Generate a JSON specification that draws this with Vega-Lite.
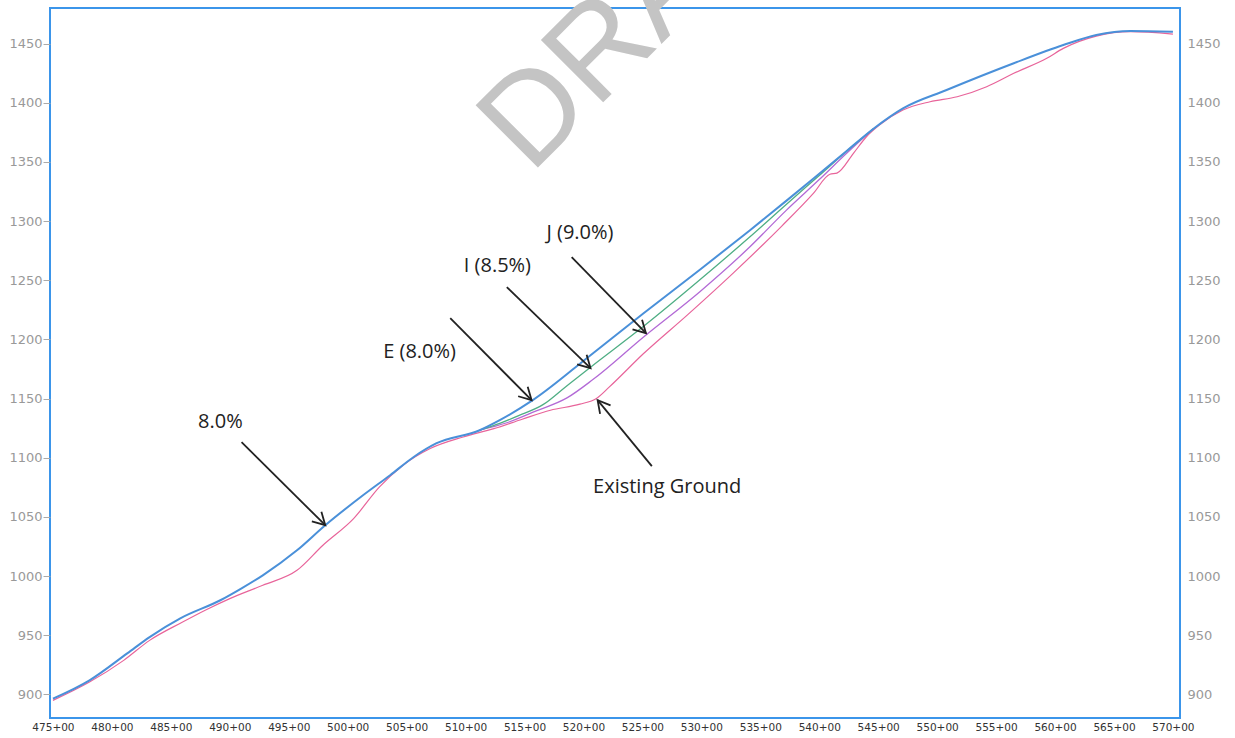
{
  "$schema": "https://vega.github.io/schema/vega-lite/v6.json",
  "width": 1130,
  "height": 710,
  "autosize": {"type": "none"},
  "padding": {"left": 50, "top": 8, "right": 55, "bottom": 20},
  "background": "white",
  "config": {"view": {"stroke": "#3b95ea", "strokeWidth": 2}},
  "datasets": {
    "profile": [
      {"sta": 475.0, "elev": 896.3, "series": "E"},
      {"sta": 478.1, "elev": 911.8, "series": "E"},
      {"sta": 481.3, "elev": 934.6, "series": "E"},
      {"sta": 483.2, "elev": 948.4, "series": "E"},
      {"sta": 485.8, "elev": 964.2, "series": "E"},
      {"sta": 489.2, "elev": 979.5, "series": "E"},
      {"sta": 491.0, "elev": 989.6, "series": "E"},
      {"sta": 492.8, "elev": 1000.6, "series": "E"},
      {"sta": 495.7, "elev": 1021.7, "series": "E"},
      {"sta": 498.1, "elev": 1042.9, "series": "E"},
      {"sta": 501.3, "elev": 1068.2, "series": "E"},
      {"sta": 503.6, "elev": 1085.2, "series": "E"},
      {"sta": 505.6, "elev": 1100.6, "series": "E"},
      {"sta": 507.5, "elev": 1112.0, "series": "E"},
      {"sta": 511.2, "elev": 1123.2, "series": "E"},
      {"sta": 512.9, "elev": 1131.7, "series": "E"},
      {"sta": 515.7, "elev": 1148.6, "series": "E"},
      {"sta": 520.6, "elev": 1186.6, "series": "E"},
      {"sta": 525.1, "elev": 1222.0, "series": "E"},
      {"sta": 529.9, "elev": 1259.0, "series": "E"},
      {"sta": 534.1, "elev": 1292.0, "series": "E"},
      {"sta": 537.2, "elev": 1317.0, "series": "E"},
      {"sta": 540.0, "elev": 1340.0, "series": "E"},
      {"sta": 542.3, "elev": 1359.0, "series": "E"},
      {"sta": 544.6, "elev": 1378.0, "series": "E"},
      {"sta": 547.1, "elev": 1395.2, "series": "E"},
      {"sta": 550.8, "elev": 1410.7, "series": "E"},
      {"sta": 556.5, "elev": 1433.3, "series": "E"},
      {"sta": 560.7, "elev": 1448.7, "series": "E"},
      {"sta": 563.5, "elev": 1457.2, "series": "E"},
      {"sta": 566.4, "elev": 1460.6, "series": "E"},
      {"sta": 570.0, "elev": 1460.0, "series": "E"},

      {"sta": 511.2, "elev": 1123.2, "series": "I"},
      {"sta": 512.9, "elev": 1129.0, "series": "I"},
      {"sta": 514.5, "elev": 1135.5, "series": "I"},
      {"sta": 516.6, "elev": 1145.0, "series": "I"},
      {"sta": 518.5, "elev": 1160.0, "series": "I"},
      {"sta": 520.6, "elev": 1176.5, "series": "I"},
      {"sta": 525.1, "elev": 1211.0, "series": "I"},
      {"sta": 529.9, "elev": 1250.5, "series": "I"},
      {"sta": 534.1, "elev": 1286.5, "series": "I"},
      {"sta": 537.2, "elev": 1314.0, "series": "I"},
      {"sta": 540.0, "elev": 1338.5, "series": "I"},
      {"sta": 542.3, "elev": 1358.7, "series": "I"},
      {"sta": 544.6, "elev": 1378.0, "series": "I"},

      {"sta": 511.2, "elev": 1123.2, "series": "J"},
      {"sta": 513.5, "elev": 1129.5, "series": "J"},
      {"sta": 516.0, "elev": 1139.5, "series": "J"},
      {"sta": 518.6, "elev": 1150.5, "series": "J"},
      {"sta": 520.8, "elev": 1166.0, "series": "J"},
      {"sta": 525.1, "elev": 1202.0, "series": "J"},
      {"sta": 529.9, "elev": 1240.5, "series": "J"},
      {"sta": 534.1, "elev": 1278.0, "series": "J"},
      {"sta": 537.2, "elev": 1309.0, "series": "J"},
      {"sta": 540.0, "elev": 1335.0, "series": "J"},
      {"sta": 542.3, "elev": 1357.0, "series": "J"},
      {"sta": 544.6, "elev": 1378.0, "series": "J"},

      {"sta": 475.0, "elev": 894.9, "series": "EG"},
      {"sta": 478.1, "elev": 910.4, "series": "EG"},
      {"sta": 481.0, "elev": 928.7, "series": "EG"},
      {"sta": 483.2, "elev": 945.6, "series": "EG"},
      {"sta": 486.0, "elev": 961.1, "series": "EG"},
      {"sta": 488.0, "elev": 971.5, "series": "EG"},
      {"sta": 490.0, "elev": 980.9, "series": "EG"},
      {"sta": 492.8, "elev": 992.2, "series": "EG"},
      {"sta": 495.7, "elev": 1004.8, "series": "EG"},
      {"sta": 497.9, "elev": 1026.0, "series": "EG"},
      {"sta": 500.5, "elev": 1048.5, "series": "EG"},
      {"sta": 502.7, "elev": 1075.3, "series": "EG"},
      {"sta": 504.7, "elev": 1093.6, "series": "EG"},
      {"sta": 507.0, "elev": 1107.7, "series": "EG"},
      {"sta": 509.8, "elev": 1117.5, "series": "EG"},
      {"sta": 512.4, "elev": 1124.5, "series": "EG"},
      {"sta": 514.8, "elev": 1132.5, "series": "EG"},
      {"sta": 517.2, "elev": 1140.1, "series": "EG"},
      {"sta": 519.7, "elev": 1145.2, "series": "EG"},
      {"sta": 521.1, "elev": 1150.0, "series": "EG"},
      {"sta": 522.2, "elev": 1159.8, "series": "EG"},
      {"sta": 525.1, "elev": 1188.0, "series": "EG"},
      {"sta": 528.8, "elev": 1220.5, "series": "EG"},
      {"sta": 532.7, "elev": 1256.0, "series": "EG"},
      {"sta": 536.8, "elev": 1295.5, "series": "EG"},
      {"sta": 539.5, "elev": 1323.3, "series": "EG"},
      {"sta": 540.9, "elev": 1339.5, "series": "EG"},
      {"sta": 541.5, "elev": 1340.5, "series": "EG"},
      {"sta": 542.9, "elev": 1357.2, "series": "EG"},
      {"sta": 544.0, "elev": 1371.2, "series": "EG"},
      {"sta": 545.1, "elev": 1381.1, "series": "EG"},
      {"sta": 547.1, "elev": 1393.8, "series": "EG"},
      {"sta": 549.4, "elev": 1400.8, "series": "EG"},
      {"sta": 551.7, "elev": 1405.0, "series": "EG"},
      {"sta": 554.2, "elev": 1413.5, "series": "EG"},
      {"sta": 556.5, "elev": 1424.8, "series": "EG"},
      {"sta": 559.3, "elev": 1437.5, "series": "EG"},
      {"sta": 560.7, "elev": 1445.9, "series": "EG"},
      {"sta": 563.5, "elev": 1456.3, "series": "EG"},
      {"sta": 566.4, "elev": 1460.0, "series": "EG"},
      {"sta": 570.0, "elev": 1458.0, "series": "EG"}
    ],
    "notes": [
      {"label": "8.0%", "tx": 489.2, "ty": 1130.0, "x1": 491.0, "y1": 1113.1, "x2": 498.1, "y2": 1042.9},
      {"label": "E (8.0%)", "tx": 506.1, "ty": 1189.2, "x1": 508.7, "y1": 1217.9, "x2": 515.6, "y2": 1148.6},
      {"label": "I (8.5%)", "tx": 512.7, "ty": 1261.9, "x1": 513.5, "y1": 1244.1, "x2": 520.6, "y2": 1175.6},
      {"label": "J (9.0%)", "tx": 519.7, "ty": 1289.8, "x1": 519.0, "y1": 1269.5, "x2": 525.3, "y2": 1205.2},
      {"label": "Existing Ground", "tx": 527.1, "ty": 1075.0, "x1": 525.8, "y1": 1092.8, "x2": 521.2, "y2": 1148.6}
    ],
    "stamp": [
      {"text": "DRAFT", "sta": 515.5, "elev": 1338.8}
    ]
  },
  "resolve": {"axis": {"y": "independent"}},
  "layer": [
    {
      "data": {"name": "stamp"},
      "mark": {"type": "text", "font": "Liberation Sans", "fontSize": 128, "color": "#c4c4c4", "angle": 315, "align": "left", "baseline": "alphabetic"},
      "encoding": {
        "x": {"field": "sta", "type": "quantitative", "scale": {"domain": [474.75, 570.6], "nice": false, "zero": false}, "axis": {"orient": "bottom", "title": null, "values": [475, 480, 485, 490, 495, 500, 505, 510, 515, 520, 525, 530, 535, 540, 545, 550, 555, 560, 565, 570], "labelExpr": "format(datum.value, 'd') + '+00'", "domain": false, "grid": false, "ticks": false, "labelColor": "#333333", "labelFont": "DejaVu Sans", "labelFontSize": 10.5, "labelPadding": 4, "labelFlush": false, "labelOverlap": false}},
        "y": {"field": "elev", "type": "quantitative", "scale": {"domain": [880, 1480], "nice": false, "zero": false}, "axis": null},
        "text": {"field": "text"}
      }
    },
    {
      "data": {"name": "profile"},
      "transform": [{"filter": "datum.series === 'EG'"}],
      "mark": {"type": "line", "color": "#e8649a", "strokeWidth": 1.2, "interpolate": "monotone"},
      "encoding": {
        "x": {"field": "sta", "type": "quantitative", "axis": {"orient": "bottom", "title": null, "values": [475, 480, 485, 490, 495, 500, 505, 510, 515, 520, 525, 530, 535, 540, 545, 550, 555, 560, 565, 570], "labelExpr": "format(datum.value, 'd') + '+00'", "domain": false, "grid": false, "ticks": false, "labelColor": "#333333", "labelFont": "DejaVu Sans", "labelFontSize": 10.5, "labelPadding": 4, "labelFlush": false, "labelOverlap": false}},
        "y": {"field": "elev", "type": "quantitative", "axis": {"orient": "left", "title": null, "format": "d", "values": [900, 950, 1000, 1050, 1100, 1150, 1200, 1250, 1300, 1350, 1400, 1450], "domain": false, "grid": false, "ticks": true, "tickSize": 7, "tickColor": "#aaaaaa", "tickWidth": 1, "labelColor": "#999999", "labelFont": "DejaVu Sans", "labelFontSize": 13, "labelPadding": 1, "labelOverlap": false}}
      }
    },
    {
      "data": {"name": "profile"},
      "transform": [{"filter": "datum.series === 'J'"}],
      "mark": {"type": "line", "color": "#b36ad6", "strokeWidth": 1.3, "interpolate": "monotone"},
      "encoding": {
        "x": {"field": "sta", "type": "quantitative", "axis": {"orient": "bottom", "title": null, "values": [475, 480, 485, 490, 495, 500, 505, 510, 515, 520, 525, 530, 535, 540, 545, 550, 555, 560, 565, 570], "labelExpr": "format(datum.value, 'd') + '+00'", "domain": false, "grid": false, "ticks": false, "labelColor": "#333333", "labelFont": "DejaVu Sans", "labelFontSize": 10.5, "labelPadding": 4, "labelFlush": false, "labelOverlap": false}},
        "y": {"field": "elev", "type": "quantitative", "axis": null}
      }
    },
    {
      "data": {"name": "profile"},
      "transform": [{"filter": "datum.series === 'I'"}],
      "mark": {"type": "line", "color": "#4fae84", "strokeWidth": 1.3, "interpolate": "monotone"},
      "encoding": {
        "x": {"field": "sta", "type": "quantitative", "axis": {"orient": "bottom", "title": null, "values": [475, 480, 485, 490, 495, 500, 505, 510, 515, 520, 525, 530, 535, 540, 545, 550, 555, 560, 565, 570], "labelExpr": "format(datum.value, 'd') + '+00'", "domain": false, "grid": false, "ticks": false, "labelColor": "#333333", "labelFont": "DejaVu Sans", "labelFontSize": 10.5, "labelPadding": 4, "labelFlush": false, "labelOverlap": false}},
        "y": {"field": "elev", "type": "quantitative", "axis": null}
      }
    },
    {
      "data": {"name": "profile"},
      "transform": [{"filter": "datum.series === 'E'"}],
      "mark": {"type": "line", "color": "#4a90d9", "strokeWidth": 2, "interpolate": "monotone"},
      "encoding": {
        "x": {"field": "sta", "type": "quantitative", "axis": {"orient": "bottom", "title": null, "values": [475, 480, 485, 490, 495, 500, 505, 510, 515, 520, 525, 530, 535, 540, 545, 550, 555, 560, 565, 570], "labelExpr": "format(datum.value, 'd') + '+00'", "domain": false, "grid": false, "ticks": false, "labelColor": "#333333", "labelFont": "DejaVu Sans", "labelFontSize": 10.5, "labelPadding": 4, "labelFlush": false, "labelOverlap": false}},
        "y": {"field": "elev", "type": "quantitative", "axis": {"orient": "right", "title": null, "format": "d", "values": [900, 950, 1000, 1050, 1100, 1150, 1200, 1250, 1300, 1350, 1400, 1450], "domain": false, "grid": false, "ticks": false, "labelColor": "#999999", "labelFont": "DejaVu Sans", "labelFontSize": 13, "labelPadding": 7, "labelOverlap": false}}
      }
    },
    {
      "data": {"name": "notes"},
      "mark": {"type": "rule", "color": "#222222", "strokeWidth": 1.8},
      "encoding": {
        "x": {"field": "x1", "type": "quantitative", "axis": {"orient": "bottom", "title": null, "values": [475, 480, 485, 490, 495, 500, 505, 510, 515, 520, 525, 530, 535, 540, 545, 550, 555, 560, 565, 570], "labelExpr": "format(datum.value, 'd') + '+00'", "domain": false, "grid": false, "ticks": false, "labelColor": "#333333", "labelFont": "DejaVu Sans", "labelFontSize": 10.5, "labelPadding": 4, "labelFlush": false, "labelOverlap": false}},
        "y": {"field": "y1", "type": "quantitative", "axis": null},
        "x2": {"field": "x2"},
        "y2": {"field": "y2"}
      }
    },
    {
      "data": {"name": "notes"},
      "mark": {"type": "point", "shape": "M -1 -0.55 L 0 0 L -1 0.55", "filled": false, "color": "#222222", "strokeWidth": 1.8, "size": 600, "opacity": 1},
      "encoding": {
        "x": {"field": "x2", "type": "quantitative", "axis": {"orient": "bottom", "title": null, "values": [475, 480, 485, 490, 495, 500, 505, 510, 515, 520, 525, 530, 535, 540, 545, 550, 555, 560, 565, 570], "labelExpr": "format(datum.value, 'd') + '+00'", "domain": false, "grid": false, "ticks": false, "labelColor": "#333333", "labelFont": "DejaVu Sans", "labelFontSize": 10.5, "labelPadding": 4, "labelFlush": false, "labelOverlap": false}},
        "y": {"field": "y2", "type": "quantitative", "axis": null},
        "angle": {"condition": {"test": "datum.label === 'Existing Ground'", "value": 231}, "value": 45}
      }
    },
    {
      "data": {"name": "notes"},
      "mark": {"type": "text", "font": "Open Sans", "fontSize": 20, "color": "#222222", "align": "center", "baseline": "middle"},
      "encoding": {
        "x": {"field": "tx", "type": "quantitative", "axis": {"orient": "bottom", "title": null, "values": [475, 480, 485, 490, 495, 500, 505, 510, 515, 520, 525, 530, 535, 540, 545, 550, 555, 560, 565, 570], "labelExpr": "format(datum.value, 'd') + '+00'", "domain": false, "grid": false, "ticks": false, "labelColor": "#333333", "labelFont": "DejaVu Sans", "labelFontSize": 10.5, "labelPadding": 4, "labelFlush": false, "labelOverlap": false}},
        "y": {"field": "ty", "type": "quantitative", "axis": null},
        "text": {"field": "label"}
      }
    }
  ]
}
